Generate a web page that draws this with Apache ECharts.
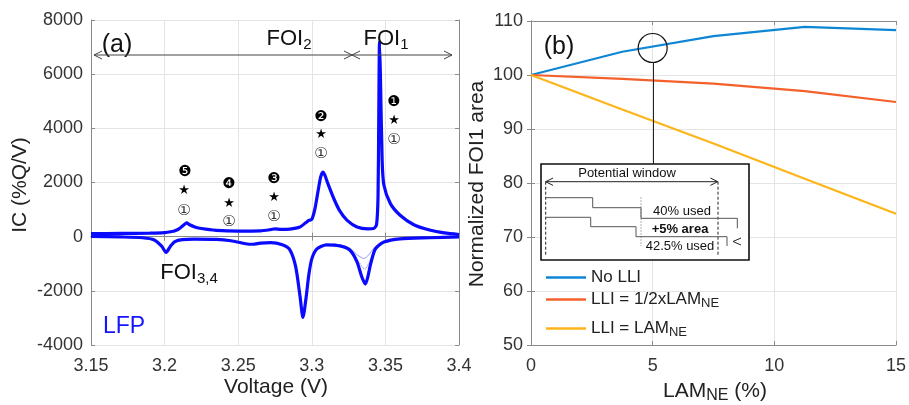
<!DOCTYPE html>
<html>
<head>
<meta charset="utf-8">
<script src="https://cdn.jsdelivr.net/npm/echarts@6/dist/echarts.min.js"></script>
<style>html,body{margin:0;padding:0;background:#fff}#c{width:909px;height:405px}</style>
</head>
<body>
<div id="c"></div>
<script>
// ---------- Panel (a): incremental capacity curves ----------
const vCharge = [3.15,3.17,3.19,3.2,3.205,3.207,3.21,3.213,3.215,3.217,3.221,3.225,3.235,3.25,3.265,3.272,3.275,3.279,3.285,3.292,3.296,3.298,3.3,3.302,3.304,3.306,3.3076,3.309,3.311,3.315,3.319,3.324,3.3307,3.338,3.342,3.344,3.345,3.3455,3.346,3.3466,3.3478,3.349,3.3534,3.36,3.3693,3.3806,3.39,3.4];
const icCharge = [110,120,130,150,190,220,300,430,510,440,350,300,235,205,215,260,290,270,280,360,520,600,640,1000,1600,2200,2380,2250,1950,1400,950,600,360,290,300,450,1500,4500,7200,6000,2800,1900,1220,790,440,235,140,80];
const vDischarge = [3.15,3.17,3.185,3.193,3.198,3.201,3.204,3.207,3.212,3.22,3.235,3.245,3.255,3.26,3.265,3.272,3.28,3.285,3.289,3.292,3.294,3.296,3.298,3.3,3.3035,3.31,3.319,3.326,3.3307,3.334,3.3364,3.338,3.34,3.3432,3.349,3.36,3.38,3.4];
const icDischarge = [10,-10,-40,-120,-350,-580,-350,-180,-110,-90,-100,-150,-260,-280,-240,-220,-300,-480,-1100,-2200,-2980,-2300,-1400,-820,-450,-300,-340,-500,-930,-1490,-1750,-1500,-1000,-450,-200,-80,-40,-10];
// fainter (earlier-cycle) discharge traces around FOI1
const vFaint = [3.315,3.322,3.327,3.331,3.3345,3.3365,3.339,3.342,3.346,3.352,3.36,3.38];
const icFaintA = [-260,-330,-470,-680,-800,-790,-650,-430,-240,-140,-80,-40];
const icFaintB = [-270,-350,-520,-850,-1150,-1200,-950,-560,-270,-150,-80,-40];

// ---------- Panel (b): normalized FOI1 area ----------
const lam = [0,3.75,7.5,11.25,15];
const noLLI = [100,104.3,107.2,108.9,108.3];
const halfLLI = [100,99.3,98.4,97.0,95.0];
const fullLLI = [100,93.6,87.3,80.8,74.3];
const legendNames = ['No LLI','LLI = 1/2xLAM_NE','LLI = LAM_NE'];

const FONT = "'Liberation Sans', Arial, Helvetica, sans-serif";
const SYM = "'DejaVu Sans','Noto Sans CJK JP', sans-serif";
const pairs = (xs, ys) => xs.map((x,i)=>[x, ys[i]]);

const chart = echarts.init(document.getElementById('c'), null, {renderer:'canvas'});

const axisLineStyle = {color:'#8a8a8a', width:1};
const gridLine = {show:true, lineStyle:{color:'#e4e4e4', width:1}};
const tickLbl = {color:'#333', fontSize:18, fontFamily:FONT};

function T(x,y,text,size,opts){
  opts = opts||{};
  return {type:'text', z:20, rotation: opts.rot||0, x:x, y:y,
    style:{text:text, x:0, y:0, fill:opts.color||'#111', font:(opts.bold?'bold ':'')+size+'px '+(opts.family||FONT), align:opts.align||'center', verticalAlign:'middle'}};
}
function RT(x,y,parts,size,subSize,opts){
  opts = opts||{};
  const color = opts.color||'#111';
  const text = parts.map(p=>'{'+p[0]+'|'+p[1]+'}').join('');
  return {type:'text', z:20, rotation: opts.rot||0, x:x, y:y,
    style:{x:0,y:0, align:opts.align||'center', verticalAlign:'middle', fill:color, text:text,
      rich:{
        m:{fontSize:size, fontFamily:FONT, fill:color, lineHeight:size+4},
        s:{fontSize:subSize, fontFamily:FONT, fill:color, lineHeight:subSize-3, verticalAlign:'bottom'}
      }}};
}
function PL(points, opts){
  opts = opts||{};
  return {type:'polyline', z:21, shape:{points:points}, style:{stroke:opts.color||'#333', lineWidth:opts.w||1, fill:null, lineDash:opts.dash||null}};
}

const graphics = [];
// axis titles
graphics.push(T(20,185,'IC (%Q/V)',21,{rot:Math.PI/2, color:'#222'}));
graphics.push(T(276,387,'Voltage (V)',21,{color:'#222'}));
graphics.push(T(477,184,'Normalized FOI1 area',21,{rot:Math.PI/2, color:'#222'}));
graphics.push(RT(715,391,[['m','LAM'],['s','NE'],['m',' (%)']],21,16,{color:'#222'}));
// panel labels
graphics.push(T(117,45,'(a)',25,{color:'#111'}));
graphics.push(T(559,47,'(b)',25,{color:'#111'}));
graphics.push(T(124,327,'LFP',23,{color:'#1414ff'}));
graphics.push(RT(289,39,[['m','FOI'],['s','2']],22,15));
graphics.push(RT(386,39,[['m','FOI'],['s','1']],22,15));
graphics.push(RT(189,273,[['m','FOI'],['s','3,4']],22,15));
// double arrow FOI line
graphics.push(PL([[94,55],[452,55]],{color:'#444'}));
graphics.push(PL([[102,51],[94,55],[102,59]],{color:'#444'}));
graphics.push(PL([[444,51],[452,55],[444,59]],{color:'#444'}));
graphics.push(PL([[344,51],[352,55],[344,59]],{color:'#444'}));
graphics.push(PL([[360,51],[352,55],[360,59]],{color:'#444'}));
// peak markers
const marks = [['❶',394,102],['❷',321,117],['❸',274,179],['❹',229,184],['❺',185,172]];
const stars = [[394,121],[321,135],[274,198],[229,204],[184,191]];
const circ = [[394,140],[321,154],[274,217],[229,222],[184,211]];
marks.forEach(m=>graphics.push(T(m[1],m[2],m[0],15,{family:SYM,color:'#000'})));
stars.forEach(m=>graphics.push(T(m[0],m[1],'★',13,{family:SYM,color:'#000'})));
circ.forEach(m=>graphics.push(T(m[0],m[1],'①',15,{family:SYM,color:'#333'})));
// panel (b) pointer line
graphics.push(PL([[653.5,62],[653.5,164]],{color:'#222'}));
// inset box
graphics.push({type:'rect', z:19, shape:{x:541,y:164,width:208,height:96}, style:{fill:'#fff', stroke:'#111', lineWidth:1.6}});
graphics.push(T(627,173,'Potential window',13,{color:'#111'}));
graphics.push(PL([[545.7,181.7],[717.7,181.7]],{color:'#222'}));
graphics.push(PL([[553,178],[545.7,181.7],[553,185.4]],{color:'#222'}));
graphics.push(PL([[710.4,178],[717.7,181.7],[710.4,185.4]],{color:'#222'}));
graphics.push(PL([[545.7,181.7],[545.7,255]],{color:'#222', dash:[3,2]}));
graphics.push(PL([[718,181.7],[718,255]],{color:'#222', dash:[3,2]}));
graphics.push(PL([[641,197],[641,246]],{color:'#b0b0b0', dash:[2,1]}));
graphics.push(PL([[545.7,197.7],[592.7,197.7],[592.7,207.7],[641,207.7],[641,218.3],[737.3,218.3],[737.3,228.3]],{color:'#555'}));
graphics.push(PL([[545.7,217.3],[590.7,217.3],[590.7,226.7],[636,226.7],[636,236.7],[727,236.7],[727,246]],{color:'#555'}));
graphics.push(PL([[741,238],[733,241.5],[741,245]],{color:'#222'}));
graphics.push(T(682,211,'40% used',13,{color:'#111'}));
graphics.push(T(680,229,'+5% area',13,{color:'#111', bold:true}));
graphics.push(T(680,246,'42.5% used',13,{color:'#111'}));

function legendFmt(name){
  const i = name.indexOf('_');
  if(i<0) return '{m|'+name+'}';
  return '{m|'+name.slice(0,i)+'}{s|'+name.slice(i+1)+'}';
}
const legendRich = {
  m:{fontSize:17, fontFamily:FONT, color:'#222', lineHeight:21},
  s:{fontSize:13, fontFamily:FONT, color:'#222', lineHeight:10, verticalAlign:'bottom'}
};
function mkLegend(name, top){
  return {data:[name], left:546, top:top, padding:0, itemWidth:40, itemHeight:2.5, icon:'rect',
    formatter:legendFmt, textStyle:{rich:legendRich}, selectedMode:false};
}
const plain = v => String(Math.round(v*100)/100);

const option = {
  animation:false,
  backgroundColor:'#fff',
  grid:[
    {left:91, top:20, width:368, height:325, show:false},
    {left:531, top:21, width:368, height:324, show:false}
  ],
  xAxis:[
    {gridIndex:0, type:'value', min:3.15, max:3.4, interval:0.05, axisLine:{show:true, lineStyle:axisLineStyle},
      axisTick:{show:true, inside:true, length:4, lineStyle:axisLineStyle}, axisLabel:Object.assign({margin:12, formatter:plain}, tickLbl), splitLine:gridLine},
    {gridIndex:0, type:'value', position:'top', min:3.15, max:3.4, interval:0.05, axisLine:{show:true, lineStyle:axisLineStyle},
      axisTick:{show:true, inside:true, length:4, lineStyle:axisLineStyle}, axisLabel:{show:false}, splitLine:{show:false}},
    {gridIndex:1, type:'value', min:0, max:15, interval:5, axisLine:{show:true, lineStyle:axisLineStyle},
      axisTick:{show:true, inside:true, length:4, lineStyle:axisLineStyle}, axisLabel:Object.assign({margin:12, formatter:plain}, tickLbl), splitLine:gridLine},
    {gridIndex:1, type:'value', position:'top', min:0, max:15, interval:5, axisLine:{show:true, lineStyle:axisLineStyle},
      axisTick:{show:true, inside:true, length:4, lineStyle:axisLineStyle}, axisLabel:{show:false}, splitLine:{show:false}}
  ],
  yAxis:[
    {gridIndex:0, type:'value', min:-4000, max:8000, interval:2000, axisLine:{show:true, lineStyle:axisLineStyle},
      axisTick:{show:true, inside:true, length:4, lineStyle:axisLineStyle}, axisLabel:Object.assign({margin:8, formatter:plain}, tickLbl), splitLine:gridLine},
    {gridIndex:0, type:'value', position:'right', min:-4000, max:8000, interval:2000, axisLine:{show:true, lineStyle:axisLineStyle},
      axisTick:{show:true, inside:true, length:4, lineStyle:axisLineStyle}, axisLabel:{show:false}, splitLine:{show:false}},
    {gridIndex:1, type:'value', min:50, max:110, interval:10, axisLine:{show:true, lineStyle:axisLineStyle},
      axisTick:{show:true, inside:true, length:4, lineStyle:axisLineStyle}, axisLabel:Object.assign({margin:8, formatter:plain}, tickLbl), splitLine:gridLine},
    {gridIndex:1, type:'value', position:'right', min:50, max:110, interval:10, axisLine:{show:true, lineStyle:axisLineStyle},
      axisTick:{show:true, inside:true, length:4, lineStyle:axisLineStyle}, axisLabel:{show:false}, splitLine:{show:false}}
  ],
  legend:[ mkLegend(legendNames[0], 269), mkLegend(legendNames[1], 291), mkLegend(legendNames[2], 320) ],
  graphic: graphics,
  series:[
    {type:'line', xAxisIndex:0, yAxisIndex:0, data:pairs(vFaint, icFaintA), symbol:'none', lineStyle:{color:'#9a9aff', width:1}, z:3},
    {type:'line', xAxisIndex:0, yAxisIndex:0, data:pairs(vFaint, icFaintB), symbol:'none', lineStyle:{color:'#7070ff', width:1, type:'dotted'}, z:3},
    {type:'line', xAxisIndex:0, yAxisIndex:0, data:pairs(vCharge, icCharge), symbol:'none', smooth:0.25, lineStyle:{color:'#0a0aff', width:3.2}, z:4},
    {type:'line', xAxisIndex:0, yAxisIndex:0, data:pairs(vDischarge, icDischarge), symbol:'none', smooth:0.25, lineStyle:{color:'#0a0aff', width:3.2}, z:4},
    {name:legendNames[0], type:'line', xAxisIndex:2, yAxisIndex:2, data:pairs(lam, noLLI), symbol:'none', color:'#0e86d4', lineStyle:{color:'#0e86d4', width:2.2},
      markPoint:{silent:true, data:[{coord:[5,105]}], symbol:'circle', symbolSize:29, itemStyle:{color:'rgba(0,0,0,0)', borderColor:'#111', borderWidth:1.2}, label:{show:false}}},
    {name:legendNames[1], type:'line', xAxisIndex:2, yAxisIndex:2, data:pairs(lam, halfLLI), symbol:'none', color:'#f4602b', lineStyle:{color:'#f4602b', width:2.2}},
    {name:legendNames[2], type:'line', xAxisIndex:2, yAxisIndex:2, data:pairs(lam, fullLLI), symbol:'none', color:'#fdb418', lineStyle:{color:'#fdb418', width:2.2}}
  ]
};
chart.setOption(option);
</script>
</body>
</html>
